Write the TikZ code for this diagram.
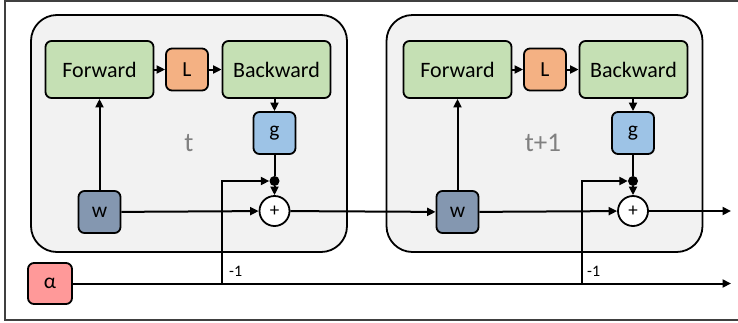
\documentclass[tikz,border=0pt]{standalone}
\usepackage{fontspec}
\setmainfont{Carlito}
\usetikzlibrary{arrows.meta}
\definecolor{fgreen}{RGB}{197,224,180}
\definecolor{lorange}{RGB}{244,177,131}
\definecolor{gblue}{RGB}{157,195,230}
\definecolor{wblue}{RGB}{132,151,176}
\definecolor{ared}{RGB}{255,153,153}
\definecolor{boxgray}{RGB}{242,242,242}
\definecolor{lblgray}{RGB}{128,128,128}
\definecolor{framegray}{RGB}{64,64,64}
\tikzset{
  blk/.style={draw=black, line width=1.8pt, rounded corners=6pt, inner sep=0pt, font=\fontsize{21.5}{25}\selectfont},
  wide/.style={blk, minimum width=108pt, minimum height=57pt, fill=fgreen, font=\fontsize{22}{26}\selectfont},
  sq/.style={blk, minimum width=42pt, minimum height=42pt},
  stagebox/.style={draw=black, line width=1.8pt, fill=boxgray, rounded corners=26pt, minimum width=316pt, minimum height=237pt, inner sep=0pt},
  arr/.style={-{Triangle[length=8.5pt,width=8pt]}, line width=2pt},
  ln/.style={line width=2pt},
  sumc/.style={circle, draw=black, line width=1.8pt, fill=white, minimum size=30pt, inner sep=0pt, font=\fontsize{19}{22}\selectfont},
  dotc/.style={circle, fill=black, minimum size=10pt, inner sep=0pt},
  steplbl/.style={text=lblgray, font=\fontsize{27}{30}\selectfont},
  small/.style={font=\fontsize{16}{18}\selectfont, anchor=west, inner sep=0pt}
}
\begin{document}
\begin{tikzpicture}[x=1pt,y=-1pt]
\useasboundingbox (0,0) rectangle (738,322);
\draw[framegray, line width=1.4pt] (738,1) -- (5,1) -- (5,320) -- (738,320);

% stage boxes
\node[stagebox] (box1) at (189,133.5) {};
\node[stagebox] (box2) at (544.5,133.5) {};

% stage t
\node[wide] (fw1) at (99.5,69.5) {Forward};
\node[sq, fill=lorange] (L1) at (187,69.5) {L};
\node[wide] (bw1) at (276.5,69.5) {Backward};
\node[sq, fill=gblue] (g1) at (274.5,133) {g};
\node[sq, fill=wblue] (w1) at (99.5,212) {w};
\node[dotc] (d1) at (274.5,181) {};
\node[sumc] (p1) at (274.5,211) {+};
\node[steplbl] (t1) at (189,143) {t};

% stage t+1
\node[wide] (fw2) at (457.5,69.5) {Forward};
\node[sq, fill=lorange] (L2) at (545,69.5) {L};
\node[wide] (bw2) at (633.5,69.5) {Backward};
\node[sq, fill=gblue] (g2) at (633,133) {g};
\node[sq, fill=wblue] (w2) at (457.5,212) {w};
\node[dotc] (d2) at (633,181) {};
\node[sumc] (p2) at (633,211) {+};
\node[steplbl] (t2) at (543,143) {t+1};

% alpha
\node[sq, fill=ared, minimum width=44pt, minimum height=41pt] (al) at (50,283.5) {α};
\coordinate (aend) at (731,283.5);
\coordinate (j1) at (221.5,283.5);
\coordinate (j2) at (582,283.5);
\coordinate (out) at (731,211);

% connectors stage t
\draw[arr] (fw1) -- (L1);
\draw[arr] (L1) -- (bw1);
\draw[arr] (bw1.south -| g1) -- (g1);
\draw[ln] (g1) -- (d1);
\draw[arr] (d1) -- (p1);
\draw[arr] (w1) -- (fw1);
\draw[arr] (w1) -- (p1);
\draw[arr] (j1) |- (d1);
\node[small] (m1) at (229,271) {-1};

% connectors stage t+1
\draw[arr] (p1) -- (w2);
\draw[arr] (fw2) -- (L2);
\draw[arr] (L2) -- (bw2);
\draw[arr] (bw2.south -| g2) -- (g2);
\draw[ln] (g2) -- (d2);
\draw[arr] (d2) -- (p2);
\draw[arr] (w2) -- (fw2);
\draw[arr] (w2) -- (p2);
\draw[arr] (j2) |- (d2);
\node[small] (m2) at (587,271) {-1};
\draw[arr] (p2) -- (out);

% alpha line
\draw[arr] (al) -- (aend);
\end{tikzpicture}
\end{document}
